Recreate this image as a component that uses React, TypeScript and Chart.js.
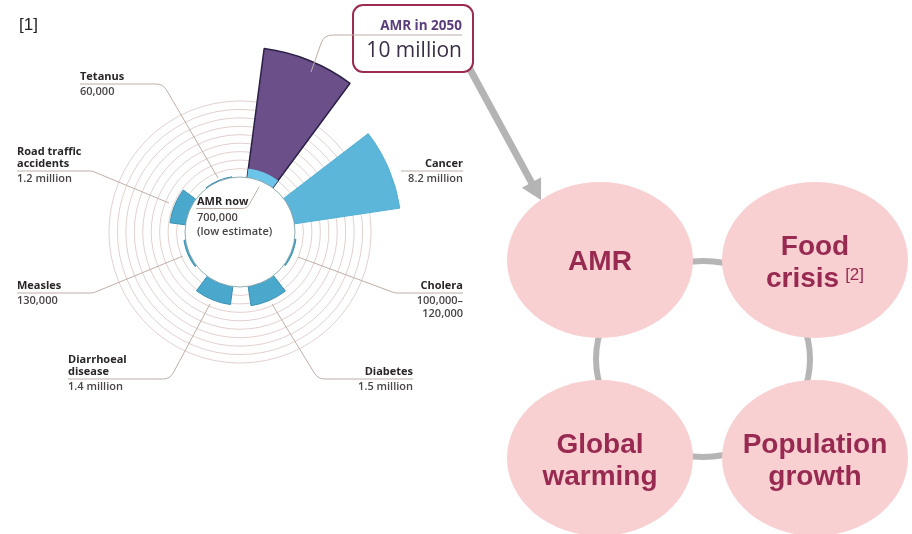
import React, { useEffect, useRef } from 'react';
import { Chart, registerables } from 'chart.js';

Chart.register(...registerables);

// ---------- data ----------
const categories = [
  'AMR in 2050',
  'Cancer',
  'Cholera',
  'Diabetes',
  'Diarrhoeal\ndisease',
  'Measles',
  'Road traffic\naccidents',
  'Tetanus',
];
// deaths per year, millions
const deathsMillions = [10, 8.2, 0.11, 1.5, 1.4, 0.13, 1.2, 0.06];
const valueLabels = [
  '10 million',
  '8.2 million',
  '100,000–\n120,000',
  '1.5 million',
  '1.4 million',
  '130,000',
  '1.2 million',
  '60,000',
];
const amrNowMillions = 0.7;
const amrNowLines = ['AMR now', '700,000', '(low estimate)'];
const issues = ['AMR', 'Food\ncrisis', 'Global\nwarming', 'Population\ngrowth'];
const issueRefs = ['', '[2]', '', ''];
const refMark = '[1]';

// ---------- geometry / style ----------
const SLICE_SWEEP = 29; // degrees
const GAP_SWEEP = 16;
const START_ANGLE = 7.5;
const HOLE_OFFSET = 55 / 13; // scale units reserved for the empty centre
const SCALE_MAX = 145 / 13;
const RING_STEP = 0.65;

const sliceLabels: string[] = [];
const sliceData: number[] = [];
const nowData: number[] = [];
const sweeps: number[] = [];
const sliceColors: string[] = [];
const sliceBorders: string[] = [];
const sliceBorderW: number[] = [];
const nowColors: string[] = [];
categories.forEach((c, i) => {
  sliceLabels.push(c.replace('\n', ' '), '');
  sliceData.push(deathsMillions[i], 0);
  nowData.push(i === 0 ? amrNowMillions : 0, 0);
  sweeps.push(SLICE_SWEEP, GAP_SWEEP);
  const fill = i === 0 ? '#6a4f88' : i === 1 ? '#5bb6da' : '#4aa8cd';
  const border = i === 0 ? '#2b2148' : i === 1 ? '#52afd5' : '#3a90b2';
  sliceColors.push(fill, 'rgba(0,0,0,0)');
  sliceBorders.push(border, 'rgba(0,0,0,0)');
  sliceBorderW.push(i === 0 ? 1.5 : 1, 0);
  nowColors.push(i === 0 ? '#6cc4e8' : 'rgba(0,0,0,0)', 'rgba(0,0,0,0)');
});

type Pt = [number, number];
interface LabelLayout {
  x: number;
  align: 'left' | 'right';
  underline: number;
  leader: Pt[];
}
const layouts: (LabelLayout | null)[] = [
  null,
  { x: 463, align: 'right', underline: 171, leader: [[463, 171], [401, 171]] },
  { x: 463, align: 'right', underline: 293, leader: [[463, 293], [395, 293], [298, 257]] },
  { x: 413, align: 'right', underline: 379, leader: [[413, 379], [318, 379], [272, 304]] },
  { x: 68, align: 'left', underline: 379, leader: [[68, 379], [170, 379], [210, 304]] },
  { x: 17, align: 'left', underline: 293, leader: [[17, 293], [93, 293], [183, 256]] },
  { x: 17, align: 'left', underline: 171, leader: [[17, 171], [92, 171], [169, 203]] },
  { x: 80, align: 'left', underline: 84, leader: [[80, 84], [163, 84], [218, 178]] },
];

const FONT = '"Open Sans", "DejaVu Sans", sans-serif';
const ARIAL = '"Liberation Sans", Arial, sans-serif';
const LEADER = '#bfaea6';

function leaderPath(ctx: CanvasRenderingContext2D, pts: Pt[], r: number) {
  ctx.beginPath();
  ctx.moveTo(pts[0][0], pts[0][1]);
  for (let i = 1; i < pts.length - 1; i++) {
    ctx.arcTo(pts[i][0], pts[i][1], pts[i + 1][0], pts[i + 1][1], r);
  }
  const last = pts[pts.length - 1];
  ctx.lineTo(last[0], last[1]);
  ctx.stroke();
}

function txt(
  ctx: CanvasRenderingContext2D,
  s: string,
  x: number,
  y: number,
  font: string,
  color: string,
  align: CanvasTextAlign = 'left'
) {
  ctx.font = font;
  ctx.fillStyle = color;
  ctx.textAlign = align;
  ctx.textBaseline = 'alphabetic';
  ctx.fillText(s, x, y);
}

const overlayPlugin = {
  id: 'overlay',
  afterDatasetsDraw(chart: any) {
    const ctx: CanvasRenderingContext2D = chart.ctx;
    const scale = chart.scales.r;
    const cx = scale.xCenter;
    const cy = scale.yCenter;
    const hole = scale.getDistanceFromCenterForValue(0);
    ctx.save();

    // empty centre
    ctx.beginPath();
    ctx.arc(cx, cy, hole, 0, Math.PI * 2);
    ctx.fillStyle = '#ffffff';
    ctx.fill();
    ctx.lineWidth = 1;
    ctx.strokeStyle = 'rgba(110,145,150,0.75)';
    ctx.stroke();

    // centre text
    ctx.lineWidth = 1;
    ctx.strokeStyle = LEADER;
    leaderPath(ctx, [[196, 208.5], [247, 208.5], [259, 187]], 8);
    txt(ctx, amrNowLines[0], 197, 205, `bold 11px ${FONT}`, '#2a2526');
    txt(ctx, amrNowLines[1], 197, 221, `600 11px ${FONT}`, '#4a4446');
    txt(ctx, amrNowLines[2], 197, 235, `600 11px ${FONT}`, '#4a4446');

    // category labels
    layouts.forEach((l, i) => {
      if (!l) return;
      ctx.lineWidth = 1;
      ctx.strokeStyle = LEADER;
      leaderPath(ctx, l.leader, 12);
      const names = categories[i].split('\n');
      const vals = valueLabels[i].split('\n');
      names.forEach((n, k) => {
        const y = l.underline - 4 - (names.length - 1 - k) * 12.5;
        txt(ctx, n, l.x, y, `bold 11px ${FONT}`, '#2a2526', l.align);
      });
      vals.forEach((v, k) => {
        txt(ctx, v, l.x, l.underline + 11 + k * 13, `600 11px ${FONT}`, '#4a4446', l.align);
      });
    });

    // grey arrow from the 2050 box to the AMR bubble
    const start: Pt = [466, 62];
    const tip: Pt = [541, 200];
    const dx = tip[0] - start[0];
    const dy = tip[1] - start[1];
    const len = Math.hypot(dx, dy);
    const ux = dx / len;
    const uy = dy / len;
    const headLen = 20;
    const headHalf = 11;
    const bx = tip[0] - ux * headLen;
    const by = tip[1] - uy * headLen;
    ctx.strokeStyle = '#b4b4b4';
    ctx.lineWidth = 7;
    ctx.lineCap = 'butt';
    ctx.beginPath();
    ctx.moveTo(start[0], start[1]);
    ctx.lineTo(bx + ux * 2, by + uy * 2);
    ctx.stroke();
    ctx.fillStyle = '#b4b4b4';
    ctx.beginPath();
    ctx.moveTo(tip[0], tip[1]);
    ctx.lineTo(bx - uy * headHalf, by + ux * headHalf);
    ctx.lineTo(bx + uy * headHalf, by - ux * headHalf);
    ctx.closePath();
    ctx.fill();

    // AMR in 2050 box
    ctx.beginPath();
    (ctx as any).roundRect(353, 5, 120, 67, 10);
    ctx.fillStyle = '#ffffff';
    ctx.fill();
    ctx.lineWidth = 2;
    ctx.strokeStyle = '#9d2c51';
    ctx.stroke();
    ctx.lineWidth = 1;
    ctx.strokeStyle = LEADER;
    leaderPath(ctx, [[311, 72], [324, 35], [462, 35]], 12);
    txt(ctx, categories[0], 462, 30, `bold 13.5px ${FONT}`, '#5a3d7c', 'right');
    txt(ctx, valueLabels[0], 462, 57, `21px ${FONT}`, '#3b2f48', 'right');

    // reference mark
    txt(ctx, refMark, 19, 30, `17px ${ARIAL}`, '#222222');

    // right-hand diagram
    ctx.lineWidth = 6;
    ctx.strokeStyle = '#b5b5b5';
    ctx.beginPath();
    ctx.ellipse(703, 359, 107, 98, 0, 0, Math.PI * 2);
    ctx.stroke();
    const centres: Pt[] = [[600, 260], [815, 260], [600, 458], [815, 458]];
    centres.forEach(([ex, ey], i) => {
      ctx.beginPath();
      ctx.ellipse(ex, ey, 93, 78, 0, 0, Math.PI * 2);
      ctx.fillStyle = '#f9d0d2';
      ctx.fill();
      const lines = issues[i].split('\n');
      const bold = `bold 28px ${ARIAL}`;
      const color = '#982a52';
      if (lines.length === 1) {
        txt(ctx, lines[0], ex, ey + 10, bold, color, 'center');
      } else {
        const y0 = ey - 5;
        txt(ctx, lines[0], ex, y0, bold, color, 'center');
        if (issueRefs[i]) {
          ctx.font = bold;
          const w1 = ctx.measureText(lines[1]).width;
          ctx.font = `17px ${ARIAL}`;
          const w2 = ctx.measureText(issueRefs[i]).width;
          const gap = 6;
          const left = ex - (w1 + gap + w2) / 2;
          txt(ctx, lines[1], left, y0 + 32, bold, color, 'left');
          txt(ctx, issueRefs[i], left + w1 + gap, y0 + 25, `17px ${ARIAL}`, color, 'left');
        } else {
          txt(ctx, lines[1], ex, y0 + 32, bold, color, 'center');
        }
      }
    });

    ctx.restore();
  },
};

export default function App() {
  const ref = useRef<HTMLCanvasElement>(null);
  useEffect(() => {
    const canvas = ref.current;
    if (!canvas) return;
    const sweepFn = (c: any) => sweeps[c.dataIndex];
    const chart = new Chart(canvas, {
      type: 'polarArea',
      data: {
        labels: sliceLabels,
        datasets: [
          {
            label: 'AMR now (millions)',
            data: nowData,
            backgroundColor: nowColors,
            borderWidth: 0,
            angle: sweepFn,
          } as any,
          {
            label: 'Deaths per year (millions)',
            data: sliceData,
            backgroundColor: sliceColors,
            borderColor: sliceBorders,
            borderWidth: sliceBorderW,
            angle: sweepFn,
          } as any,
        ],
      },
      options: {
        responsive: false,
        animation: false,
        devicePixelRatio: 1,
        layout: { padding: { left: 40, top: 32, right: 472, bottom: 102 } },
        plugins: { legend: { display: false }, tooltip: { enabled: false } },
        scales: {
          r: {
            type: 'radialLinear',
            min: -HOLE_OFFSET,
            max: SCALE_MAX,
            beginAtZero: false,
            startAngle: START_ANGLE,
            ticks: { display: false, stepSize: RING_STEP },
            grid: {
              circular: true,
              lineWidth: 1,
              color: (c: any) => {
                const v = c.tick ? c.tick.value : -1;
                return v > 0.3 && v < 6 ? 'rgba(200,172,165,0.55)' : 'rgba(0,0,0,0)';
              },
            },
            angleLines: { display: false },
            pointLabels: { display: false },
          } as any,
        },
      },
      plugins: [overlayPlugin],
    });
    return () => chart.destroy();
  }, []);
  return (
    <div style={{ position: 'fixed', left: 0, top: 0, width: 912, height: 534, background: '#ffffff' }}>
      <canvas ref={ref} width={912} height={534} style={{ display: 'block', width: 912, height: 534 }} />
    </div>
  );
}
